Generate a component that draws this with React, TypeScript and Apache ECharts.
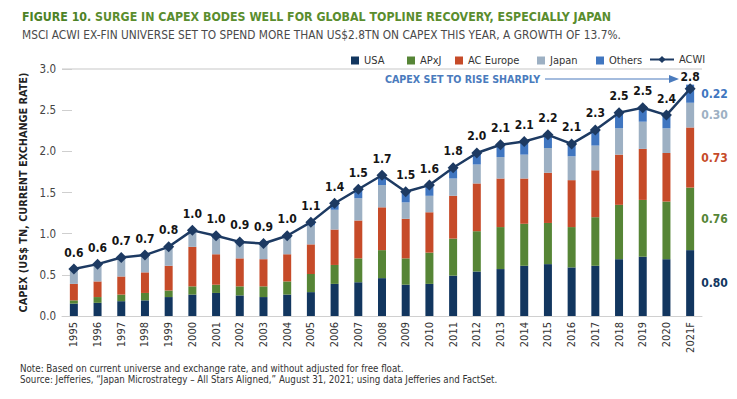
import React, { useEffect, useRef } from "react";
import * as echarts from "echarts";

const years = ["1995","1996","1997","1998","1999","2000","2001","2002","2003","2004","2005","2006","2007","2008","2009","2010","2011","2012","2013","2014","2015","2016","2017","2018","2019","2020","2021F"];
const usa = [0.15,0.16,0.18,0.19,0.23,0.26,0.28,0.25,0.23,0.26,0.29,0.39,0.41,0.46,0.38,0.39,0.49,0.54,0.57,0.61,0.63,0.59,0.61,0.69,0.72,0.69,0.80];
const apxj = [0.04,0.07,0.08,0.09,0.08,0.10,0.10,0.11,0.13,0.16,0.22,0.23,0.29,0.34,0.32,0.38,0.45,0.49,0.51,0.51,0.50,0.49,0.59,0.66,0.69,0.70,0.76];
const europe = [0.20,0.19,0.22,0.25,0.30,0.48,0.37,0.34,0.33,0.33,0.36,0.43,0.46,0.52,0.48,0.49,0.52,0.58,0.59,0.55,0.61,0.57,0.57,0.61,0.62,0.59,0.73];
const japan = [0.17,0.20,0.22,0.20,0.22,0.18,0.20,0.18,0.17,0.20,0.23,0.24,0.27,0.27,0.20,0.20,0.21,0.23,0.26,0.29,0.30,0.29,0.30,0.32,0.33,0.30,0.30];
const others = [0.00,0.01,0.01,0.01,0.01,0.02,0.02,0.02,0.02,0.03,0.04,0.08,0.11,0.12,0.13,0.13,0.13,0.14,0.15,0.16,0.16,0.15,0.18,0.19,0.19,0.16,0.22];
const acwi = [0.57,0.63,0.71,0.74,0.84,1.04,0.975,0.90,0.88,0.975,1.14,1.37,1.54,1.71,1.51,1.59,1.80,1.98,2.08,2.12,2.20,2.09,2.26,2.47,2.53,2.44,2.76];
const yTicks = [0, 0.5, 1.0, 1.5, 2.0, 2.5, 3.0];

const FONT = "'Liberation Sans Narrow', 'DejaVu Sans Condensed', 'Liberation Sans', sans-serif";

const C = {
  usa: "#12365f",
  apxj: "#568536",
  europe: "#c64b29",
  japan: "#9db0c3",
  others: "#4076c0",
  acwi: "#1d3a62",
  green: "#5a8d2e",
  arrow: "#4a7bbd",
};

function barSeries(name: string, data: number[], color: string) {
  const last = data.length - 1;
  return {
    name,
    type: "bar",
    stack: "capex",
    barWidth: 8,
    itemStyle: { color },
    data: data.map((v, i) =>
      i === last
        ? {
            value: v,
            label: {
              show: true,
              position: "right",
              distance: 7,
              formatter: () => v.toFixed(2),
              color,
              fontFamily: FONT,
              fontWeight: "bold",
              fontSize: 12,
            },
          }
        : v
    ),
  };
}

const legendText = { fontFamily: FONT, fontSize: 11, color: "#333" };
function barLegend(name: string, left: number) {
  return {
    left,
    top: 50,
    itemWidth: 8,
    itemHeight: 8,
    icon: "rect",
    textStyle: legendText,
    data: [name],
  };
}

export default function App() {
  const ref = useRef<HTMLDivElement>(null);
  useEffect(() => {
    document.body.style.margin = "0";
    const chart = echarts.init(ref.current!, null, { renderer: "svg" });
    const lastIdx = acwi.length - 1;
    chart.setOption({
      animation: false,
      backgroundColor: "#ffffff",
      textStyle: { fontFamily: FONT },
      title: {
        left: 17,
        top: 6,
        text: "{a|FIGURE 10.}{b| SURGE IN CAPEX BODES WELL FOR GLOBAL TOPLINE RECOVERY, ESPECIALLY JAPAN}",
        textStyle: {
          rich: {
            a: { fontFamily: FONT, fontWeight: "bold", fontSize: 12.3, color: "#4c8226" },
            b: { fontFamily: FONT, fontWeight: "bold", fontSize: 12.3, color: C.green },
          },
        },
        subtext: "MSCI ACWI EX-FIN UNIVERSE SET TO SPEND MORE THAN US$2.8TN ON CAPEX THIS YEAR, A GROWTH OF 13.7%.",
        subtextStyle: { fontFamily: FONT, fontSize: 11.8, color: "#4a4a4a" },
        itemGap: 6,
      },
      legend: [
        barLegend("USA", 346),
        barLegend("APxJ", 402),
        barLegend("AC Europe", 450),
        barLegend("Japan", 532),
        barLegend("Others", 591),
        {
          left: 644,
          top: 49,
          itemWidth: 24,
          itemHeight: 9,
          textStyle: legendText,
          data: ["ACWI"],
        },
      ],
      grid: { left: 62, right: 35, top: 69, bottom: 83, containLabel: false },
      xAxis: {
        type: "category",
        data: years,
        axisLine: { show: true, lineStyle: { color: "#d0d0d0", width: 1 } },
        axisTick: { show: false },
        axisLabel: {
          rotate: 90,
          margin: 6,
          fontFamily: FONT,
          fontSize: 11,
          color: "#333",
          interval: 0,
        },
      },
      yAxis: {
        type: "value",
        min: yTicks[0],
        max: yTicks[yTicks.length - 1],
        interval: 0.5,
        name: "CAPEX (US$ TN, CURRENT EXCHANGE RATE)",
        nameLocation: "middle",
        nameGap: 31,
        nameTextStyle: { fontFamily: FONT, fontWeight: "bold", fontSize: 10.8, color: "#222" },
        axisLine: { show: false },
        axisTick: { show: true, inside: true, length: 10, lineStyle: { color: "#cfcfcf" } },
        axisLabel: {
          margin: 6,
          fontFamily: FONT,
          fontSize: 11.5,
          color: "#444",
          formatter: (v: number) => v.toFixed(1),
        },
        splitLine: {
          show: true,
          lineStyle: {
            color: ["rgba(0,0,0,0)", "rgba(0,0,0,0)", "rgba(0,0,0,0)", "rgba(0,0,0,0)", "rgba(0,0,0,0)", "rgba(0,0,0,0)", "#dadada"],
            width: 1.5,
          },
        },
      },
      series: [
        barSeries("USA", usa, C.usa),
        barSeries("APxJ", apxj, C.apxj),
        barSeries("AC Europe", europe, C.europe),
        barSeries("Japan", japan, C.japan),
        barSeries("Others", others, C.others),
        {
          name: "ACWI",
          type: "line",
          data: acwi.map((v, i) => (i === lastIdx ? { value: v, label: { distance: 0 } } : v)),
          symbol: "diamond",
          symbolSize: [11, 11],
          lineStyle: { color: C.acwi, width: 2.5 },
          itemStyle: { color: C.acwi },
          z: 5,
          label: {
            show: true,
            position: "top",
            distance: 5,
            formatter: (p: any) => Number(p.value).toFixed(1),
            fontFamily: FONT,
            fontWeight: "bold",
            fontSize: 12,
            color: "#151515",
          },
        },
      ],
      graphic: [
        {
          type: "text",
          left: 385,
          top: 73,
          style: {
            text: "CAPEX SET TO RISE SHARPLY",
            fontFamily: FONT,
            fontWeight: "bold",
            fontSize: 10.6,
            fill: C.arrow,
          },
        },
        {
          type: "line",
          shape: { x1: 545, y1: 79, x2: 672, y2: 79 },
          style: { stroke: C.arrow, lineWidth: 1.2 },
        },
        {
          type: "polygon",
          shape: { points: [[669, 75], [679, 79], [669, 83]] },
          style: { fill: C.arrow },
        },
        {
          type: "text",
          left: 20,
          top: 363,
          style: {
            text: "Note: Based on current universe and exchange rate, and without adjusted for free float.",
            fontFamily: FONT,
            fontSize: 9.7,
            fill: "#333",
          },
        },
        {
          type: "text",
          left: 20,
          top: 374,
          style: {
            text: "Source: Jefferies, \u201CJapan Microstrategy \u2013 All Stars Aligned,\u201D August 31, 2021; using data Jefferies and FactSet.",
            fontFamily: FONT,
            fontSize: 9.7,
            fill: "#333",
          },
        },
      ],
    });
    return () => chart.dispose();
  }, []);
  return <div ref={ref} style={{ width: 737, height: 399 }} />;
}
